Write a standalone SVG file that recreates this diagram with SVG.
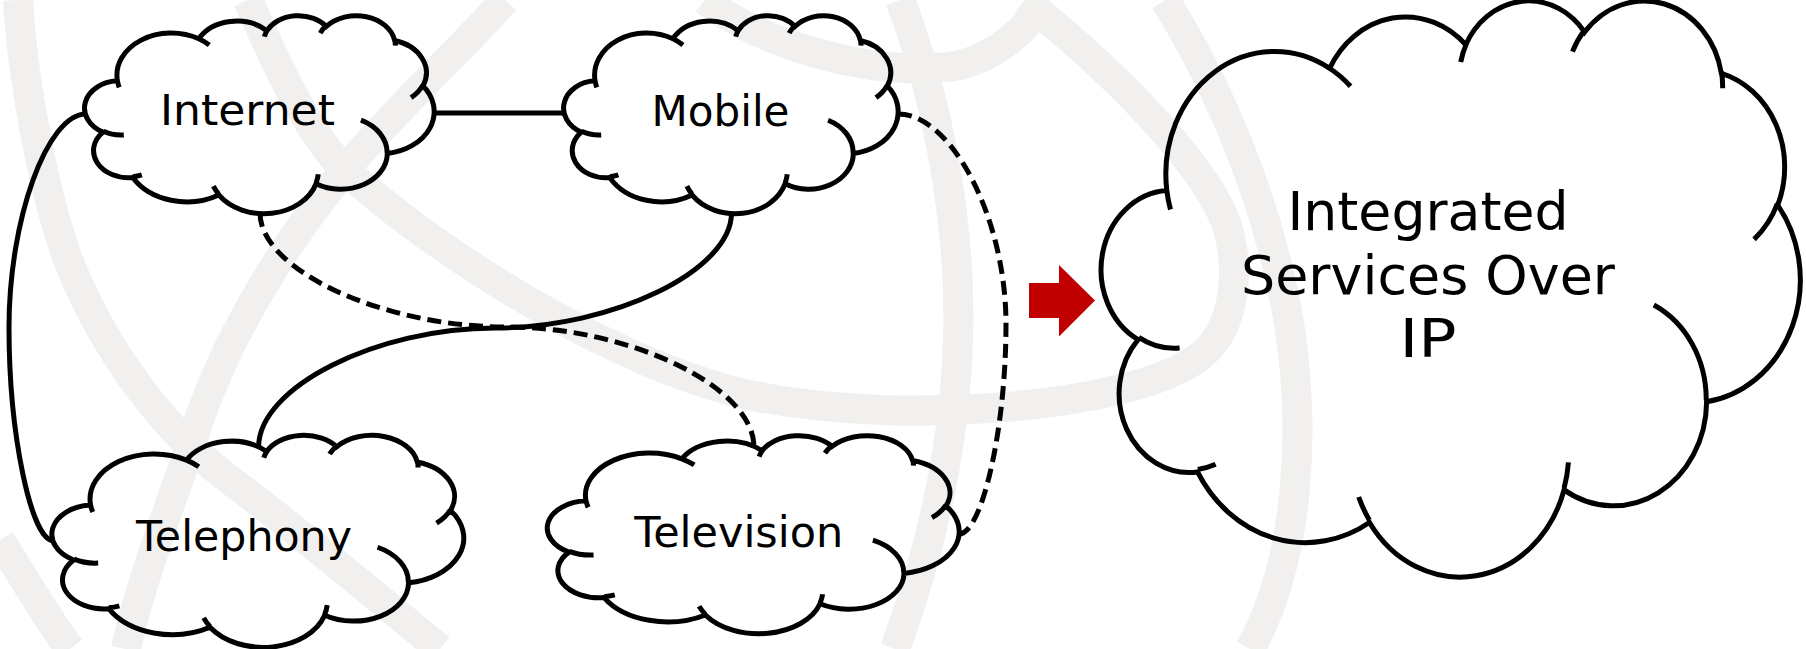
<svg xmlns="http://www.w3.org/2000/svg" width="1806" height="649" viewBox="0 0 1806 649">
  <style>
    .band { fill: none; stroke: #f1f0ee; stroke-width: 30; }
    .cloud { fill: none; stroke: #000; stroke-width: 5; }
    .link { fill: none; stroke: #000; stroke-width: 5; }
    .dash { stroke-dasharray: 14 7; }
    .label { font-family: "DejaVu Sans", "Liberation Sans", sans-serif; fill: #000; text-anchor: middle; }
    .small { font-size: 42px; }
    .big { font-size: 53px; }
  </style>
  <defs>
    <!-- cloud outline in a 43200 x 43200 unit box; stroke stays 5px at any scale -->
    <path id="cloud-shape" class="cloud" vector-effect="non-scaling-stroke" d="M3900 14370 A6753 9190 0 0 1 14005 5202 A5333 7267 0 0 1 22456 3432 A4365 5945 0 0 1 29833 2481 A4857 6595 0 0 1 38318 5576 A5333 7273 0 0 1 41818 15460 A6775 9220 0 0 1 37404 30203 A5785 7867 0 0 1 28556 36813 A6752 9215 0 0 1 16480 39264 A7720 10543 0 0 1 5805 35470 A4360 5918 0 0 1 2114 25548 A4345 5945 0 0 1 3900 14370 Z M4693 26177 A4345 5945 0 0 1 2160 25380 M6928 34899 A4360 5918 0 0 1 5820 35281 M16478 39090 A6752 9215 0 0 1 15810 37350 M28827 34751 A6752 9215 0 0 1 28560 36660 M34129 22954 A5785 7867 0 0 1 37380 30090 M41798 15354 A5333 7273 0 0 1 40350 18030 M38324 5426 A4857 6595 0 0 1 38400 6690 M29078 3952 A4857 6595 0 0 1 29820 2339 M22141 4720 A4365 5945 0 0 1 22500 3330 M14000 5192 A6753 9190 0 0 1 15300 6540 M4127 15789 A6753 9190 0 0 1 3900 14370"/>
  </defs>

  <!-- faint globe swooshes in the background -->
  <g id="background">
    <path class="band" d="M18 0 C22 70 40 180 67 257 C95 330 150 420 230 480 C300 532 380 600 440 649"/>
    <path class="band" d="M505 0 C470 40 390 115 345 170 C290 235 230 330 199 420 C180 480 140 580 126 649"/>
    <path class="band" d="M248 0 C270 50 300 120 340 165 C430 250 620 370 759 397 C900 424 1120 410 1195 360 C1240 330 1240 260 1225 220 C1200 160 1120 80 1050 21 L1025 0"/>
    <path class="band" d="M900 0 C935 90 962 220 958 340 C955 440 935 540 895 649"/>
    <path class="band" d="M1165 0 C1215 80 1270 200 1290 330 C1305 430 1300 560 1250 649"/>
    <path class="band" d="M705 0 C760 45 880 80 960 65 C1000 55 1030 25 1045 0"/>
    <path class="band" d="M0 540 C25 580 45 615 70 649"/>
  </g>

  <g id="connectors">
    <path class="link" d="M434 113 L565 113"/>
    <path class="link" d="M86 114 C47 114 9 220 9 327 C9 434 31 541 54 541"/>
    <path class="link dash" d="M898 114 C952 114 1006 219 1006 324 C1006 429 982 534 959 534"/>
    <path class="link dash" d="M260 213 C260 270 383 327 507 327 C630 327 754 387 754 447"/>
    <path class="link" d="M731.5 213 C731.5 270.5 613 328 495 328 C377 328 258.6 387 258.6 447"/>
  </g>

  <g id="internet">
    <use href="#cloud-shape" transform="translate(86 15) scale(0.0080556 0.0045833)"/>
    <text class="label small" x="247.5" y="125" textLength="175" lengthAdjust="spacingAndGlyphs">Internet</text>
  </g>

  <g id="mobile">
    <use href="#cloud-shape" transform="translate(565 15) scale(0.0077083 0.0045833)"/>
    <text class="label small" x="720.5" y="126" textLength="138" lengthAdjust="spacingAndGlyphs">Mobile</text>
  </g>

  <g id="telephony">
    <use href="#cloud-shape" transform="translate(53.6 434.6) scale(0.0094907 0.0049074)"/>
    <text class="label small" x="244" y="551" textLength="216" lengthAdjust="spacingAndGlyphs">Telephony</text>
  </g>

  <g id="television">
    <use href="#cloud-shape" transform="translate(549 435) scale(0.0094907 0.0045833)"/>
    <text class="label small" x="738.7" y="547" textLength="209" lengthAdjust="spacingAndGlyphs">Television</text>
  </g>

  <g id="arrow">
    <polygon points="1029,283 1059,283 1059,265 1095,300.5 1059,336.5 1059,318 1029,318" fill="#c00000"/>
  </g>

  <g id="integrated">
    <use href="#cloud-shape" transform="translate(1104 -1) scale(0.0161111 0.0133333)"/>
    <text class="label big" x="1428" y="230" textLength="281" lengthAdjust="spacingAndGlyphs">Integrated</text>
    <text class="label big" x="1428" y="294" textLength="374" lengthAdjust="spacingAndGlyphs">Services Over</text>
    <text class="label big" x="1428" y="357" textLength="57" lengthAdjust="spacingAndGlyphs">IP</text>
  </g>
</svg>
